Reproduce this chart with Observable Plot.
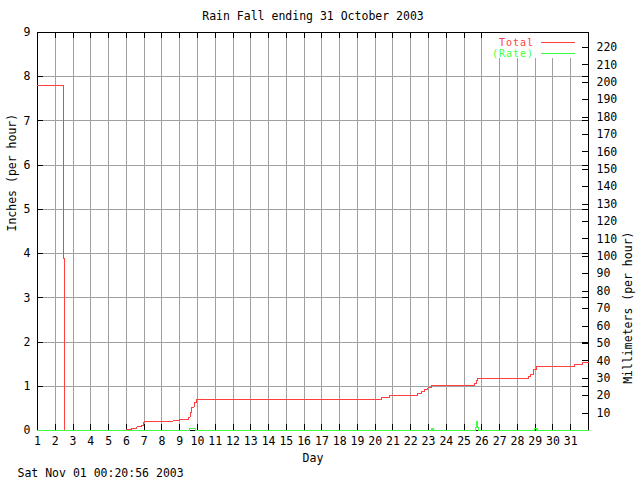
<!DOCTYPE html>
<html>
<head>
<meta charset="utf-8">
<script src="https://cdn.jsdelivr.net/npm/d3@7"></script>
<script src="https://cdn.jsdelivr.net/npm/@observablehq/plot@0.6"></script>
<style>
  body { margin: 0; background: #fff; }
  svg { display: block; }
</style>
</head>
<body>
<div id="chart"></div>
<script>
// ---- Data ----
const chartTitle = "Rain Fall ending 31 October 2003";
const timestamp = "Sat Nov 01 00:20:56 2003";
const xLabel = "Day";
const yLabel = "Inches (per hour)";
const y2Label = "Millimeters (per hour)";
const seriesNames = ["Total", "(Rate)"];

const dayTicks = [1,2,3,4,5,6,7,8,9,10,11,12,13,14,15,16,17,18,19,20,21,22,23,24,25,26,27,28,29,30,31];
const inchTicks = [0,1,2,3,4,5,6,7,8,9];
const mmTicks = [10,20,30,40,50,60,70,80,90,100,110,120,130,140,150,160,170,180,190,200,210,220];

// Total (cumulative) – step-after points
const totalDays   = [1, 2.46, 2.54, 5.98, 6.30, 6.58, 6.86, 6.96, 7.00, 8.62, 8.98, 9.48, 9.58, 9.69, 9.82, 9.95, 20.35, 20.82, 22.40, 22.60, 22.78, 22.97, 23.16, 25.60, 25.68, 25.76, 28.64, 28.72, 28.90, 29.05, 31.20, 31.67, 32];
const totalInches = [7.8, 3.9, 0, 0.03, 0.05, 0.08, 0.11, 0.17, 0.20, 0.22, 0.25, 0.30, 0.41, 0.53, 0.64, 0.70, 0.74, 0.785, 0.83, 0.875, 0.93, 0.965, 1.02, 1.07, 1.13, 1.18, 1.22, 1.27, 1.37, 1.45, 1.49, 1.54, 1.54];

// Rate – step-after points
const rateDays   = [1, 9.54, 9.90, 23.15, 23.25, 25.64, 25.70, 25.76, 25.82, 28.95, 29.10, 32];
const rateInches = [0, 0.05, 0, 0.04, 0, 0.07, 0.21, 0.06, 0, 0.04, 0, 0];

// ---- Layout ----
const W = 640, H = 480;
const mL = 37, mR = 52, mT = 32, mB = 50;
const pw = W - mL - mR, ph = H - mT - mB;
const tick = 6;
const font = "'DejaVu Sans Mono', 'Liberation Mono', monospace";
const fs = 11.5;
const red = "#ff4040", green = "#40ff40", gridColor = "#a0a0a0";
const crisp = { shapeRendering: "crispEdges" };

const mmToIn = m => m / 25.4;
const totalIdx = totalDays.map((_, i) => i);
const rateIdx = rateDays.map((_, i) => i);

const chart = Plot.plot({
  width: W, height: H,
  marginLeft: mL, marginRight: mR, marginTop: mT, marginBottom: mB,
  style: { fontFamily: font, fontSize: fs + "px", background: "#fff", color: "#000" },
  x: { type: "linear", domain: [1, 32] },
  y: { type: "linear", domain: [0, 9] },
  marks: [
    Plot.gridX(dayTicks.slice(1), { stroke: gridColor, strokeOpacity: 1, ...crisp }),
    Plot.gridY(inchTicks.slice(1, -1), { stroke: gridColor, strokeOpacity: 1, ...crisp }),
    Plot.frame({ stroke: "#000", ...crisp }),
    // inward ticks (gnuplot style, mirrored)
    Plot.tickY(inchTicks, { y: d => d, insetRight: pw - tick, stroke: "#000", ...crisp }),
    Plot.tickY(inchTicks, { y: d => d, insetLeft: pw - tick, stroke: "#000", ...crisp }),
    Plot.tickY(mmTicks, { y: d => mmToIn(d), insetLeft: pw - tick, stroke: "#000", ...crisp }),
    Plot.tickX(dayTicks, { x: d => d, insetTop: ph - tick, stroke: "#000", ...crisp }),
    Plot.tickX(dayTicks, { x: d => d, insetBottom: ph - tick, stroke: "#000", ...crisp }),
    // axis labels
    Plot.axisX(dayTicks, { anchor: "bottom", tickSize: 0, tickPadding: 6, label: null, tickFormat: d => String(d) }),
    Plot.axisY(inchTicks, { anchor: "left", tickSize: 0, tickPadding: 7, label: null, tickFormat: d => String(d) }),
    Plot.axisY(mmTicks.map(mmToIn), { anchor: "right", tickSize: 0, tickPadding: 8, label: null, tickFormat: d => String(Math.round(d * 25.4)) }),
    // series
    Plot.line(totalIdx, { x: i => totalDays[i], y: i => totalInches[i], curve: "step-after", stroke: red, strokeWidth: 1, ...crisp }),
    Plot.line(rateIdx, { x: i => rateDays[i], y: i => rateInches[i], curve: "step-after", stroke: green, strokeWidth: 1.3, ...crisp }),
    // texts
    Plot.text([chartTitle], { text: d => d, frameAnchor: "top", dy: -16, lineAnchor: "middle", fill: "#000" }),
    Plot.text([xLabel], { text: d => d, frameAnchor: "bottom", dy: 28, lineAnchor: "middle", fill: "#000" }),
    Plot.text([timestamp], { text: d => d, frameAnchor: "bottom-left", dx: -20, dy: 43, textAnchor: "start", lineAnchor: "middle", fill: "#000" }),
    Plot.text([yLabel], { text: d => d, frameAnchor: "left", dx: -25, rotate: -90, lineAnchor: "middle", fill: "#000" }),
    Plot.text([y2Label], { text: d => d, frameAnchor: "right", dx: 40, rotate: -90, lineAnchor: "middle", fill: "#000" })
  ]
});

// ---- Legend (gnuplot-style, inside top-right) ----
const svg = d3.select(chart);
const lg = svg.append("g").attr("font-family", font).attr("font-size", 10).attr("letter-spacing", "1px");
lg.append("rect").attr("x", 490).attr("y", 33).attr("width", 92).attr("height", 25).attr("fill", "#fff");
const legendColors = [red, green];
seriesNames.forEach((name, i) => {
  const yy = 42.5 + i * 11;
  lg.append("text").attr("x", 534).attr("y", yy).attr("dy", "0.35em")
    .attr("text-anchor", "end").attr("fill", legendColors[i]).text(name);
  lg.append("line").attr("x1", 541).attr("x2", 575).attr("y1", yy).attr("y2", yy)
    .attr("stroke", legendColors[i]).attr("stroke-width", 1).attr("shape-rendering", "crispEdges");
});

document.getElementById("chart").appendChild(chart);
</script>
</body>
</html>
